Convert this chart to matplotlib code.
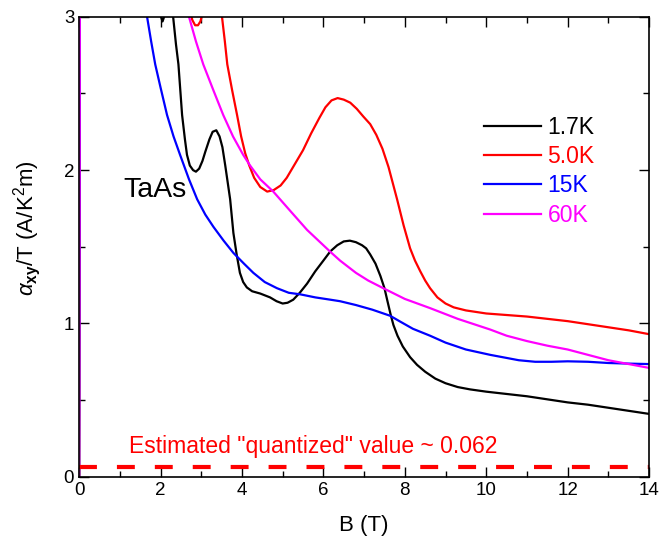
import matplotlib
matplotlib.use("Agg")
import matplotlib.pyplot as plt

plt.rcParams['font.family'] = ['Liberation Sans', 'DejaVu Sans']
plt.rcParams['mathtext.fontset'] = 'custom'
plt.rcParams['mathtext.rm'] = 'Liberation Sans'
plt.rcParams['mathtext.it'] = 'Liberation Sans:italic'
plt.rcParams['mathtext.bf'] = 'Liberation Sans:bold'

labels = ["1.7K", "5.0K", "15K", "60K"]
colors = ["black", "red", "blue", "magenta"]

B_17 = [0, 0.02, 1.0, 1.95, 2.05, 2.15, 2.25, 2.31, 2.38, 2.44, 2.53, 2.6, 2.65, 2.72, 2.8, 2.87, 2.95,
        3.03, 3.1, 3.2, 3.28, 3.37, 3.45, 3.52, 3.59, 3.65, 3.71, 3.79, 3.87, 3.95, 4.03, 4.12, 4.25,
        4.45, 4.69, 4.85, 5.0, 5.12, 5.26, 5.42, 5.6, 5.8, 6.0, 6.17, 6.34, 6.5, 6.65, 6.8, 6.95, 7.05,
        7.15, 7.28, 7.4, 7.5, 7.57, 7.65, 7.72, 7.82, 7.95, 8.13, 8.3, 8.5, 8.75, 9.0, 9.3, 9.6, 10,
        10.5, 11, 11.5, 12, 12.5, 13, 13.5, 14]
a_17 = [0, 3.5, 5.0, 3.05, 2.97, 3.05, 3.2, 3.0, 2.82, 2.69, 2.36, 2.2, 2.1, 2.03, 2.0, 1.99, 2.01,
        2.06, 2.12, 2.2, 2.25, 2.26, 2.22, 2.15, 2.03, 1.92, 1.81, 1.59, 1.45, 1.33, 1.27, 1.235, 1.21,
        1.195, 1.17, 1.145, 1.13, 1.135, 1.155, 1.2, 1.26, 1.34, 1.41, 1.47, 1.51, 1.535, 1.54, 1.53, 1.51, 1.49,
        1.45, 1.39, 1.31, 1.23, 1.15, 1.06, 0.99, 0.92, 0.85, 0.78, 0.73, 0.685, 0.64, 0.61, 0.585, 0.57, 0.555,
        0.54, 0.525, 0.505, 0.485, 0.47, 0.45, 0.43, 0.41]

B_50 = [0, 0.02, 1.0, 2.5, 2.72, 2.78, 2.85, 2.92, 2.98, 3.04, 3.2, 3.4, 3.51, 3.58, 3.64, 3.76, 3.88,
        3.98, 4.08, 4.18, 4.3, 4.45, 4.62, 4.78, 4.95, 5.1, 5.3, 5.5, 5.7, 5.9, 6.05, 6.2, 6.35, 6.5,
        6.66, 6.82, 6.98, 7.15, 7.3, 7.45, 7.6, 7.81, 7.97, 8.13, 8.25, 8.38, 8.5, 8.62, 8.8, 9.0,
        9.2, 9.5, 10, 10.5, 11, 11.5, 12, 12.5, 13, 13.5, 14]
a_50 = [0, 3.5, 6.0, 3.4, 3.05, 2.98, 2.945, 2.945, 2.97, 3.03, 3.3, 3.3, 3.0, 2.84, 2.69, 2.52, 2.36,
        2.22, 2.11, 2.03, 1.95, 1.89, 1.86, 1.87, 1.9, 1.95, 2.04, 2.13, 2.24, 2.34, 2.41, 2.455, 2.47, 2.46,
        2.44, 2.4, 2.35, 2.3, 2.23, 2.14, 2.02, 1.81, 1.64, 1.49, 1.41, 1.34, 1.28, 1.23, 1.17, 1.13,
        1.105, 1.085, 1.065, 1.055, 1.045, 1.03, 1.015, 0.995, 0.975, 0.955, 0.93]

B_15 = [0, 0.02, 1.0, 1.5, 1.67, 1.77, 1.87, 2.0, 2.16, 2.32, 2.48, 2.7, 2.9, 3.1, 3.3, 3.55, 3.79,
        4.05, 4.28, 4.56, 4.86, 5.15, 5.43, 5.8, 6.17, 6.41, 6.8, 7.2, 7.64, 7.9, 8.2, 8.62, 9.0, 9.5,
        10.1, 10.5, 10.8, 11.2, 11.6, 12, 12.5, 13, 13.5, 14]
a_15 = [0, 3.5, 6.0, 3.5, 3.0, 2.84, 2.69, 2.54, 2.36, 2.22, 2.1, 1.94, 1.81, 1.71, 1.63, 1.54, 1.46,
        1.39, 1.33, 1.27, 1.23, 1.2, 1.19, 1.17, 1.155, 1.145, 1.12, 1.09, 1.05, 1.01, 0.965, 0.92, 0.875, 0.83,
        0.795, 0.775, 0.76, 0.75, 0.75, 0.753, 0.75, 0.742, 0.738, 0.735]

B_60 = [0, 0.02, 1.0, 2.5, 2.7, 2.87, 3.05, 3.3, 3.54, 3.78, 4.03, 4.2, 4.45, 4.77, 5.2, 5.6, 6.0,
        6.2, 6.41, 6.8, 7.1, 7.47, 8.0, 8.62, 9.3, 10.1, 10.5, 11, 11.5, 12, 12.5, 13, 13.5, 14]
a_60 = [0, 3.5, 8.0, 3.3, 3.0, 2.84, 2.69, 2.52, 2.36, 2.22, 2.1, 2.03, 1.94, 1.86, 1.73, 1.61, 1.51,
        1.46, 1.41, 1.33, 1.28, 1.23, 1.16, 1.10, 1.03, 0.96, 0.92, 0.885, 0.855, 0.83, 0.795, 0.76, 0.735, 0.71]

quantized = 0.062

series = [(B_17, a_17), (B_50, a_50), (B_15, a_15), (B_60, a_60)]

fig = plt.figure(figsize=(6.59, 5.43), dpi=100)
ax = fig.add_axes([0.12, 0.122, 0.865, 0.847])

for (b, a), c, l in zip(series, colors, labels):
    ax.plot(b, a, color=c, lw=1.6, label=l, solid_joinstyle='round')

ax.axhline(quantized, color='red', lw=3, dashes=(4.3, 4.8))

ax.set_xlim(0, 14)
ax.set_ylim(0, 3)
ax.set_xticks([0, 2, 4, 6, 8, 10, 12, 14])
ax.set_xticks([1, 3, 5, 7, 9, 11, 13], minor=True)
ax.set_yticks([0, 1, 2, 3])
ax.set_yticks([0.5, 1.5, 2.5], minor=True)
ax.tick_params(which='both', direction='in', top=True, right=True, labelsize=13.5, width=1)
ax.tick_params(which='major', length=7)
ax.tick_params(which='minor', length=4)
for s in ax.spines.values():
    s.set_linewidth(1.2)

ax.set_xlabel('B (T)', fontsize=16, labelpad=12)
ax.set_ylabel(r'$\alpha_{\mathbf{xy}}$/T (A/K$^2$m)', fontsize=16)
ax.yaxis.set_label_coords(-0.064, 0.54)

ax.text(1.1, 1.87, 'TaAs', fontsize=20.5, va='center', ha='left')
ax.text(5.75, 0.195, 'Estimated "quantized" value ~ 0.062', color='red', fontsize=16.5,
        ha='center', va='center')

leg = ax.legend(loc='upper left', bbox_to_anchor=(0.675, 0.83), frameon=False, fontsize=16.5,
                handlelength=2.45, handletextpad=0.3, labelspacing=0.28, labelcolor='linecolor')

fig.savefig('out.png', dpi=100)
